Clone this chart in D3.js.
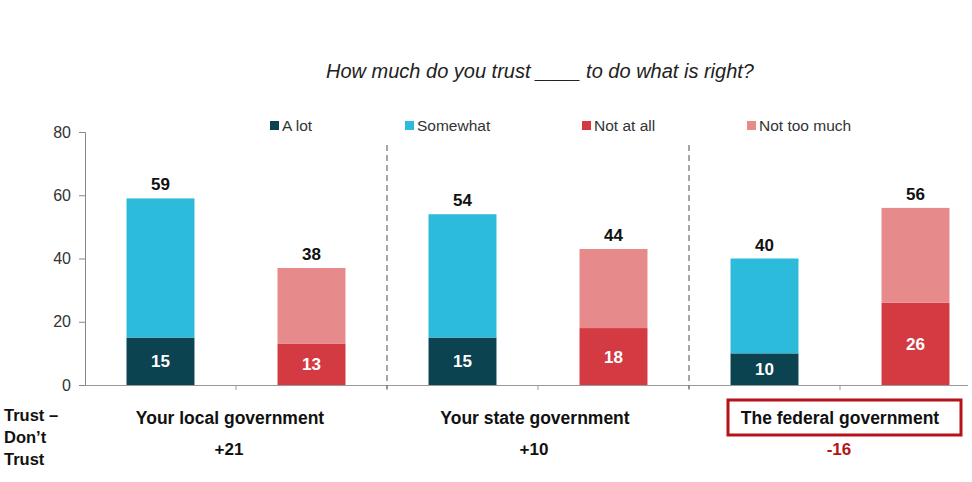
<!DOCTYPE html>
<html>
<head>
<meta charset="utf-8">
<script src="https://cdn.jsdelivr.net/npm/d3@7"></script>
<style>
  body { margin: 0; background: #fff; }
  text { font-family: "Liberation Sans", Arial, sans-serif; }
</style>
</head>
<body>
<svg id="chart" width="972" height="482"></svg>
<script>
// data
var groups = ["Your local government", "Your state government", "The federal government"];
var aLot = [15, 15, 10];
var somewhat = [44, 39, 30];
var notAtAll = [13, 18, 26];
var notTooMuch = [24, 25, 30];
var trustTotal = [59, 54, 40];
var distrustTotal = [38, 44, 56];
var netTrust = ["+21", "+10", "-16"];
var yTicks = [0, 20, 40, 60, 80];

var colors = { aLot: "#0b4350", somewhat: "#2dbbdb", notAtAll: "#d43a42", notTooMuch: "#e68a8b" };
var legendItems = [
  { key: "aLot", label: "A lot", x: 270 },
  { key: "somewhat", label: "Somewhat", x: 405 },
  { key: "notAtAll", label: "Not at all", x: 582 },
  { key: "notTooMuch", label: "Not too much", x: 747 }
];

var svg = d3.select("#chart");
var plotLeft = 85, plotTop = 132, plotBottom = 385;

// one band per bar: trust / distrust for each group
var bars = [];
groups.forEach(function (g, i) {
  bars.push({ id: g + "|t", group: i, low: aLot[i], high: somewhat[i], lowC: colors.aLot, highC: colors.somewhat, total: trustTotal[i] });
  bars.push({ id: g + "|d", group: i, low: notAtAll[i], high: notTooMuch[i], lowC: colors.notAtAll, highC: colors.notTooMuch, total: distrustTotal[i] });
});

var x = d3.scaleBand().domain(bars.map(function (d) { return d.id; }))
  .range([plotLeft, 991]).paddingInner(0.55).paddingOuter(0.275);
var step = x.step();
var y = d3.scaleLinear().domain([0, 80]).range([plotBottom, plotTop]);

// title
svg.append("text")
  .attr("x", 540).attr("y", 78)
  .attr("text-anchor", "middle")
  .style("font-style", "italic").style("font-size", "20px").style("fill", "#222")
  .text("How much do you trust ____ to do what is right?");

// y axis
var yAxis = svg.append("g")
  .attr("transform", "translate(" + plotLeft + ",0)")
  .call(d3.axisLeft(y).tickValues(yTicks).tickSize(6).tickPadding(8));
yAxis.select(".domain").attr("stroke", "#888");
yAxis.selectAll(".tick line").attr("stroke", "#888");
yAxis.selectAll(".tick text").style("font-size", "16px").style("fill", "#333")
  .style("font-family", "'Liberation Sans', Arial, sans-serif");

// x axis line with ticks at band edges
svg.append("line")
  .attr("x1", plotLeft).attr("x2", 968).attr("y1", plotBottom + 0.5).attr("y2", plotBottom + 0.5)
  .attr("stroke", "#999");
svg.selectAll(".xtick").data(d3.range(1, bars.length)).enter().append("line")
  .attr("x1", function (i) { return plotLeft + i * step; })
  .attr("x2", function (i) { return plotLeft + i * step; })
  .attr("y1", plotBottom).attr("y2", plotBottom + 5)
  .attr("stroke", "#999");

// dashed separators between groups
svg.selectAll(".sep").data([2, 4]).enter().append("line")
  .attr("x1", function (i) { return plotLeft + i * step; })
  .attr("x2", function (i) { return plotLeft + i * step; })
  .attr("y1", 145).attr("y2", plotBottom + 4)
  .attr("stroke", "#777").attr("stroke-width", 1.3).attr("stroke-dasharray", "6,4");

// bars
var bar = svg.selectAll(".bar").data(bars).enter().append("g");
bar.append("rect")
  .attr("x", function (d) { return x(d.id); })
  .attr("width", x.bandwidth())
  .attr("y", function (d) { return y(d.low); })
  .attr("height", function (d) { return y(0) - y(d.low); })
  .attr("fill", function (d) { return d.lowC; });
bar.append("rect")
  .attr("x", function (d) { return x(d.id); })
  .attr("width", x.bandwidth())
  .attr("y", function (d) { return y(d.low + d.high); })
  .attr("height", function (d) { return y(d.low) - y(d.low + d.high); })
  .attr("fill", function (d) { return d.highC; });
bar.append("text")
  .attr("x", function (d) { return x(d.id) + x.bandwidth() / 2; })
  .attr("y", function (d) { return (y(d.low) + y(0)) / 2 + 6; })
  .attr("text-anchor", "middle")
  .style("font-size", "17px").style("font-weight", "bold").style("fill", "#fff")
  .text(function (d) { return d.low; });
bar.append("text")
  .attr("x", function (d) { return x(d.id) + x.bandwidth() / 2; })
  .attr("y", function (d) { return y(d.low + d.high) - 8; })
  .attr("text-anchor", "middle")
  .style("font-size", "17px").style("font-weight", "bold").style("fill", "#111")
  .text(function (d) { return d.total; });

// legend
var lg = svg.selectAll(".legend").data(legendItems).enter().append("g")
  .attr("transform", function (d) { return "translate(" + d.x + ",121)"; });
lg.append("rect").attr("width", 9).attr("height", 9)
  .attr("fill", function (d) { return colors[d.key]; });
lg.append("text").attr("x", 12).attr("y", 10)
  .style("font-size", "15.5px").style("fill", "#333")
  .text(function (d) { return d.label; });

// group labels and net values
var gx = function (i) { return plotLeft + (2 * i + 1) * step; };
svg.append("rect")
  .attr("x", 728).attr("y", 400).attr("width", 233).attr("height", 35)
  .attr("fill", "none").attr("stroke", "#b5121b").attr("stroke-width", 3);
svg.selectAll(".glabel").data(groups).enter().append("text")
  .attr("x", function (d, i) { return gx(i) - 6 + i * 3; })
  .attr("y", 424)
  .attr("text-anchor", "middle")
  .style("font-size", "17.5px").style("font-weight", "bold").style("fill", "#111")
  .text(function (d) { return d; });
svg.selectAll(".net").data(netTrust).enter().append("text")
  .attr("x", function (d, i) { return gx(i) - 7 + i * 3; })
  .attr("y", 455)
  .attr("text-anchor", "middle")
  .style("font-size", "17px").style("font-weight", "bold")
  .style("fill", function (d) { return d.charAt(0) === "-" ? "#b5121b" : "#111"; })
  .text(function (d) { return d; });

// row label
svg.selectAll(".rowlab").data(["Trust \u2013", "Don\u2019t", "Trust"]).enter().append("text")
  .attr("x", 4).attr("y", function (d, i) { return 421 + i * 22; })
  .style("font-size", "16.5px").style("font-weight", "bold").style("fill", "#111")
  .text(function (d) { return d; });
</script>
</body>
</html>
